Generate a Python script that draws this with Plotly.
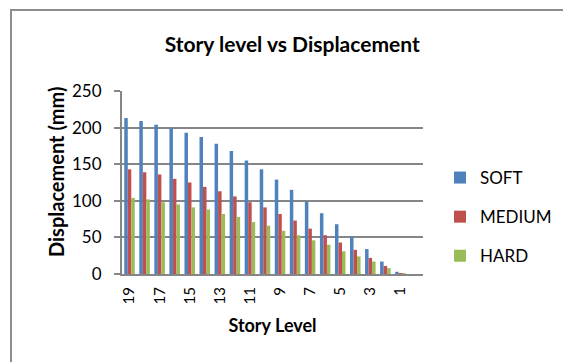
import plotly.graph_objects as go

# Story levels, top floor first; level 0 is the base
levels = [str(n) for n in range(19, -1, -1)]
level_ticks = [str(n) for n in range(19, 0, -2)]

# Displacement (mm) per story for each soil type
soft = [213, 209, 204, 199, 193, 187, 178, 168, 155, 143, 129, 115, 99, 83, 68, 51, 34, 17, 3, 0]
medium = [143, 139, 136, 130, 125, 119, 113, 106, 98, 91, 82, 73, 62, 53, 43, 33, 22, 11, 1, 0]
hard = [104, 102, 98, 95, 91, 88, 82, 78, 71, 66, 59, 53, 46, 40, 31, 24, 17, 8, 1, 0]

series = [("SOFT", soft, "#4F81BD"), ("MEDIUM", medium, "#C0504D"), ("HARD", hard, "#9BBB59")]

font_family = "Lato, 'Open Sans', sans-serif"

fig = go.Figure()
for name, vals, color in series:
    fig.add_trace(go.Bar(x=levels, y=vals, name=name, legendgroup=name,
                         marker=dict(color=color, line=dict(width=0))))

W, H = 563, 362
L, R, T, B = 122, 140, 91, 88
pw, ph = W - L - R, H - T - B

def px_x(p):
    return (p - L) / pw

def px_y(p):
    return (H - B - p) / ph

frame = dict(color="#8C8C8C", width=2)

fig.update_layout(
    width=W, height=H,
    margin=dict(l=L, r=R, t=T, b=B, autoexpand=False),
    paper_bgcolor="white", plot_bgcolor="white",
    barmode="group", bargap=0.3, bargroupgap=0,
    font=dict(family=font_family, color="#000000", size=14),
    title=dict(text="<b>Story level vs Displacement</b>", x=0.519, xanchor="center",
               y=1 - 45 / H, yanchor="middle", font=dict(size=21)),
    xaxis=dict(type="category", categoryorder="array", categoryarray=levels,
               tickmode="array", tickvals=level_ticks, ticktext=level_ticks,
               tickangle=-90, showgrid=False, showline=True, linecolor="#868686", linewidth=2,
               ticks="", tickfont=dict(size=15), ticklabelstandoff=5,
               title=dict(text="<b>Story Level</b>", font=dict(size=18), standoff=16)),
    yaxis=dict(range=[0, 250], dtick=50, showgrid=True, gridcolor="#868686", gridwidth=2,
               showline=True, linecolor="#868686", linewidth=2, zeroline=False,
               ticks="outside", ticklen=6, tickcolor="#868686", tickwidth=2,
               tickfont=dict(size=17), ticklabelstandoff=9),
    annotations=[dict(text="<b>Displacement (mm)</b>", xref="paper", yref="paper",
                      x=px_x(56), y=px_y(172), xanchor="center", yanchor="middle",
                      textangle=-90, showarrow=False, font=dict(size=20))],
    legend=dict(x=px_x(440), y=px_y(160), xanchor="left", yanchor="top",
                font=dict(size=17), tracegroupgap=14, itemwidth=30,
                bgcolor="rgba(0,0,0,0)"),
    shapes=[
        # chart frame: top and left edges
        dict(type="line", xref="paper", yref="paper",
             x0=px_x(10), x1=px_x(W), y0=px_y(10), y1=px_y(10), line=frame, layer="below"),
        dict(type="line", xref="paper", yref="paper",
             x0=px_x(11), x1=px_x(11), y0=px_y(10), y1=px_y(H), line=frame, layer="below"),
    ],
)

fig.write_html("out.html")
